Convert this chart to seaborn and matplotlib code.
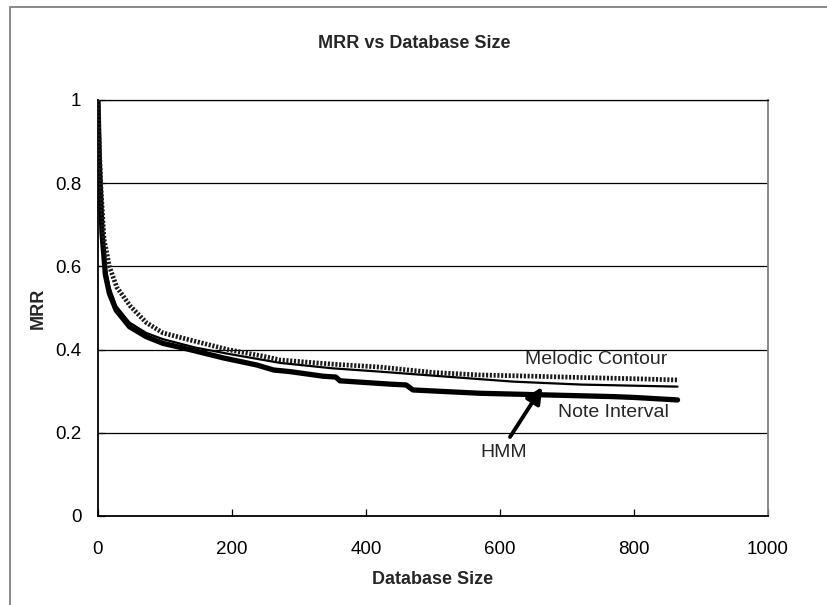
import matplotlib
matplotlib.use("Agg")
import matplotlib.pyplot as plt
import seaborn as sns
import pandas as pd
from matplotlib.patches import Rectangle

sns.set_theme(style="white")
plt.rcParams['font.family'] = ['Liberation Sans', 'DejaVu Sans']

title = "MRR vs Database Size"
x_label = "Database Size"
y_label = "MRR"
x_ticks = [0, 200, 400, 600, 800, 1000]
y_ticks = [0, 0.2, 0.4, 0.6, 0.8, 1.0]
y_tick_labels = ["0", "0.2", "0.4", "0.6", "0.8", "1"]

melodic_x = [0, 1, 4, 9, 17, 28, 48, 72, 97, 145, 194, 244, 272, 350, 421, 500, 570, 650, 719, 800, 865]
melodic_y = [1.0, 0.93, 0.80, 0.665, 0.60, 0.55, 0.505, 0.465, 0.44, 0.42, 0.40, 0.385, 0.375, 0.365,
             0.358, 0.345, 0.339, 0.336, 0.333, 0.330, 0.327]

note_x = [0, 2, 6, 11, 17, 27, 47, 72, 97, 137, 187, 237, 262, 287, 336, 355, 361, 436, 460, 470,
          570, 670, 769, 800, 865]
note_y = [1.0, 0.85, 0.68, 0.58, 0.535, 0.495, 0.455, 0.431, 0.415, 0.40, 0.38, 0.363, 0.351, 0.347,
          0.336, 0.334, 0.325, 0.317, 0.315, 0.303, 0.295, 0.291, 0.287, 0.285, 0.279]

hmm_x = [0, 2, 6, 11, 17, 27, 47, 72, 97, 145, 194, 272, 350, 421, 520, 620, 720, 865]
hmm_y = [1.0, 0.86, 0.70, 0.60, 0.55, 0.505, 0.465, 0.44, 0.425, 0.405, 0.39, 0.368, 0.355, 0.347,
         0.335, 0.323, 0.316, 0.311]

fig = plt.figure(figsize=(8.28, 6.05), dpi=100)
ax = fig.add_axes([98/828, 89/605, 670/828, 416/605])

# chart-area border (only left and top edges visible in the crop)
fig.patches.append(Rectangle((10/828, -10/605), 840/828, 608/605, transform=fig.transFigure,
                             fill=False, edgecolor='#808080', linewidth=1.3))

for yv in y_ticks[1:]:
    ax.axhline(yv, color='black', linewidth=0.9, zorder=1)

df_m = pd.DataFrame({"x": melodic_x, "y": melodic_y})
df_n = pd.DataFrame({"x": note_x, "y": note_y})
df_h = pd.DataFrame({"x": hmm_x, "y": hmm_y})

sns.lineplot(data=df_h, x="x", y="y", ax=ax, color='black', linewidth=1.6, sort=False,
             estimator=None, zorder=3)
sns.lineplot(data=df_n, x="x", y="y", ax=ax, color='black', linewidth=3.8, sort=False,
             estimator=None, zorder=4)
sns.lineplot(data=df_m, x="x", y="y", ax=ax, color='#1a1a1a', linewidth=3.4, sort=False,
             estimator=None, zorder=5, linestyle=(0, (0.45, 0.35)))

ax.set_xlim(0, 1000)
ax.set_ylim(0, 1)
ax.set_xticks(x_ticks)
ax.set_xticklabels([str(v) for v in x_ticks])
ax.set_yticks(y_ticks)
ax.set_yticklabels(y_tick_labels)
ax.tick_params(axis='both', direction='in', length=5, width=0.9, colors='black',
               labelsize=13.5, bottom=True, left=True)
ax.tick_params(axis='x', pad=18)
ax.tick_params(axis='y', pad=12)

for s in ['left', 'bottom']:
    ax.spines[s].set_color('black')
    ax.spines[s].set_linewidth(1.3)
ax.spines['right'].set_color('#808080')
ax.spines['right'].set_linewidth(1.3)
ax.spines['top'].set_color('black')
ax.spines['top'].set_linewidth(0.9)

ax.set_xlabel(x_label, fontsize=13, fontweight='bold', labelpad=9)
ax.set_ylabel(y_label, fontsize=13, fontweight='bold', labelpad=6)

fig.text(414/828, 1 - 43/605, title, ha='center', va='center', fontsize=13, fontweight='bold')

ax.text(743, 0.375, "Melodic Contour", ha='center', va='center', fontsize=14, zorder=6)
ax.text(769, 0.248, "Note Interval", ha='center', va='center', fontsize=14, zorder=6)
ax.text(605, 0.152, "HMM", ha='center', va='center', fontsize=14, zorder=6)
ax.annotate("", xy=(663, 0.31), xytext=(615, 0.19),
            arrowprops=dict(arrowstyle='-|>', color='black', lw=2.8, mutation_scale=24,
                            shrinkA=0, shrinkB=0), zorder=6)

fig.savefig("out.png", dpi=100)
